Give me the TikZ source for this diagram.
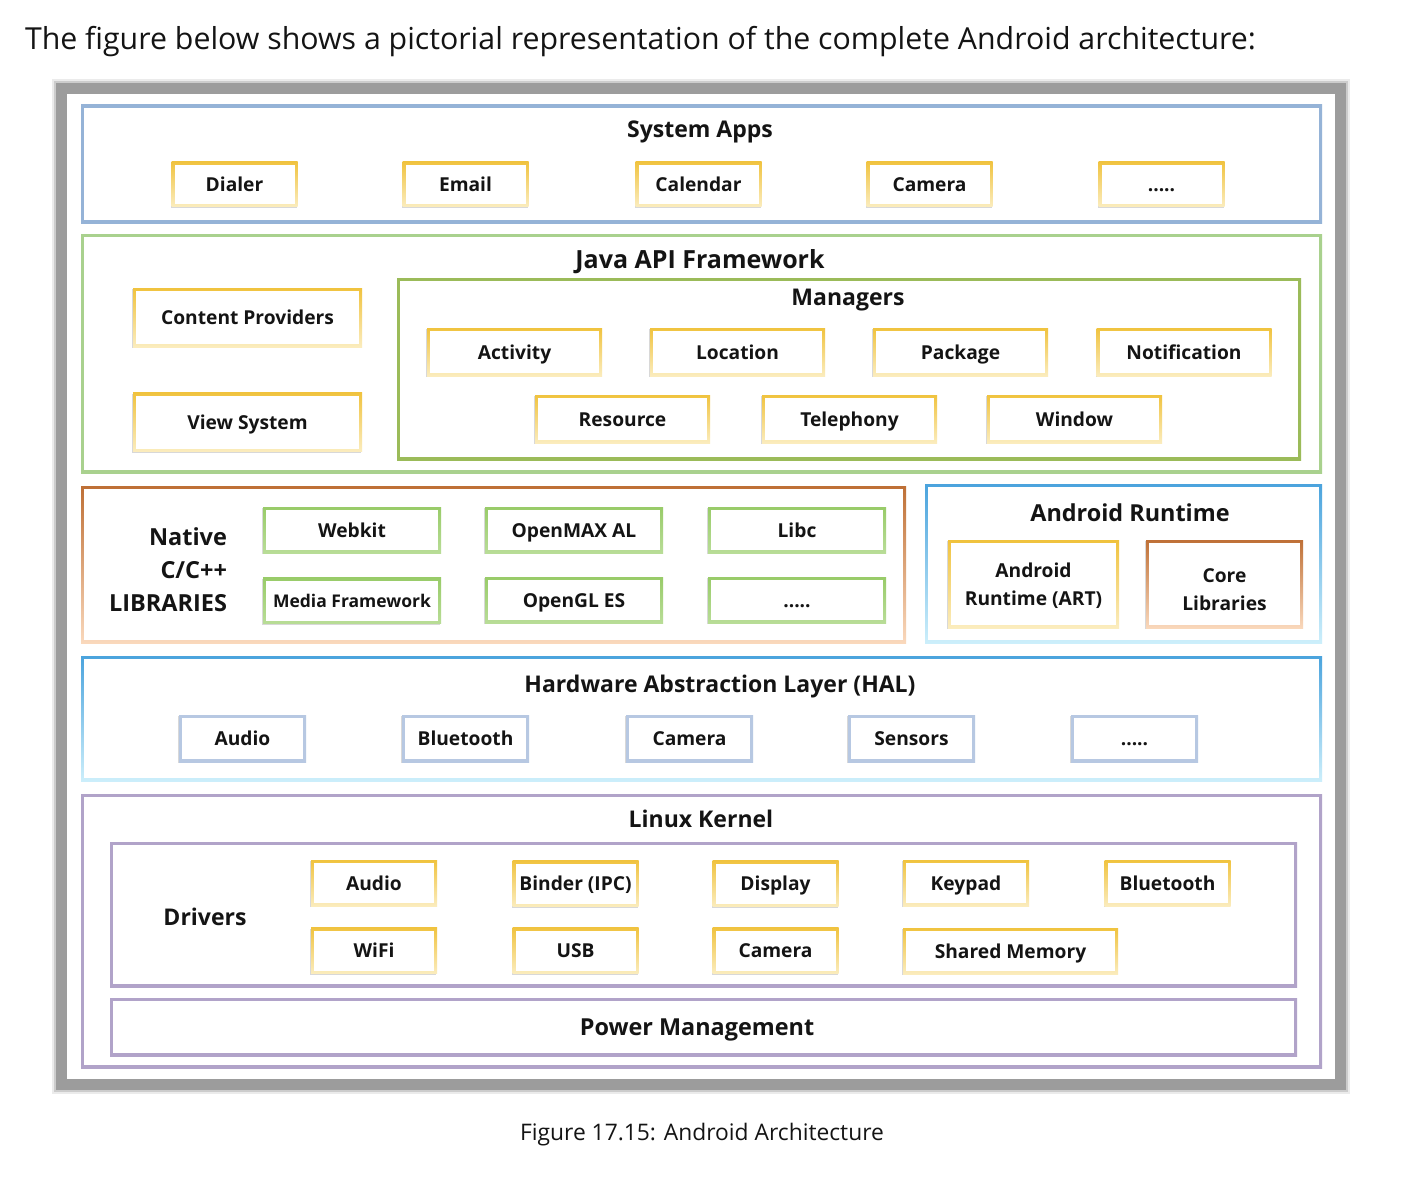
\documentclass[tikz,border=0pt]{standalone}
\usepackage{fontspec}
\setmainfont{Open Sans}
\usetikzlibrary{fit,shadows}
\definecolor{framegray}{HTML}{9C9C9C}
\definecolor{sysblue}{HTML}{95B3D7}
\definecolor{javagreen}{HTML}{A9D18E}
\definecolor{mgrgreen}{HTML}{9BBB59}
\definecolor{goldA}{HTML}{F0C23C}
\definecolor{goldB}{HTML}{FBEDC0}
\definecolor{brownA}{HTML}{BE6F35}
\definecolor{brownB}{HTML}{FAD9BD}
\definecolor{libgreenA}{HTML}{98CB68}
\definecolor{libgreenB}{HTML}{B9DD98}
\definecolor{rtblueA}{HTML}{4AA3DD}
\definecolor{rtblueB}{HTML}{CDEFFB}
\definecolor{halbox}{HTML}{B7C8E2}
\definecolor{kernpurple}{HTML}{B1A3C9}
\definecolor{txt}{HTML}{141414}
\tikzset{
  every node/.style={inner sep=0pt, outer sep=0pt, text=txt},
  gb/.style n args={3}{fill=white, path picture={
      \shade[top color=#1,bottom color=#2] ([shift={(-1pt,-1pt)}]path picture bounding box.south west) rectangle ([shift={(1pt,1pt)}]path picture bounding box.north east);
      \fill[white] ([shift={(#3,#3)}]path picture bounding box.south west) rectangle ([shift={(-#3,-#3)}]path picture bounding box.north east);}},
  sh/.style={drop shadow={shadow xshift=-0.8pt, shadow yshift=-1.4pt, opacity=.3, fill=gray}},
  lab/.style={font=\fontsize{19.2}{22}\selectfont\bfseries, text height=16.5pt, text depth=2pt},
  ttl/.style={font=\fontsize{23}{26}\selectfont\bfseries, text height=18pt, text depth=1.5pt},
  bigttl/.style={font=\fontsize{25}{28}\selectfont\bfseries, text height=19pt, text depth=1pt},
  twoline/.style={align=center, font=\fontsize{19.2}{28}\selectfont\bfseries},
  ybox/.style={gb={goldA}{goldB}{3pt}, sh, lab, minimum width=126pt, minimum height=45pt},
  mbox/.style={ybox, minimum width=175pt, minimum height=48pt},
  cbox/.style={ybox, minimum width=229pt, minimum height=59pt},
  lbox/.style={gb={libgreenA}{libgreenB}{3pt}, sh, lab, minimum width=178pt, minimum height=46pt},
  hbox/.style={gb={halbox}{halbox}{3pt}, sh, lab, minimum width=127pt, minimum height=47pt},
  dbox/.style={ybox, minimum width=126pt, minimum height=46pt},
}
\begin{document}
\begin{tikzpicture}[x=1pt,y=-1pt]
\useasboundingbox[fill=white] (0,0) rectangle (1410,1180);

% heading
\node[font=\fontsize{30.3}{34}\selectfont, anchor=west] (head) at (25,42) {The figure below shows a pictorial representation of the complete Android architecture:};

% outer frame with soft shadow
\node[fit={(61,89) (1340,1084)}, draw=black!8, line width=19pt] (halo) {};
\node[fit={(61,89) (1340,1084)}, draw=black!20, line width=15pt] (halo2) {};
\node[fit={(61,89) (1340,1084)}, draw=framegray, line width=11pt, fill=white] (outer) {};

% ---------- System Apps ----------
\node[gb={sysblue}{sysblue}{3pt}, fit={(81,105) (1322,223)}] (sys) {};
\node[ttl] (sysT) at (700,129) {System Apps};
\node[ybox] (dialer) at (234.5,184) {Dialer};
\node[ybox] (email) at (465.5,184) {Email};
\node[ybox] (calendar) at (698.5,184) {Calendar};
\node[ybox] (camera1) at (929.5,184) {Camera};
\node[ybox] (more1) at (1161.5,184) {.....};

% ---------- Java API Framework ----------
\node[gb={javagreen}{javagreen}{3pt}, fit={(81,234) (1322,473)}] (java) {};
\node[bigttl] (javaT) at (700,259) {Java API Framework};
\node[cbox] (content) at (247.5,317.5) {Content Providers};
\node[cbox] (view) at (247.5,422) {View System};
\node[gb={mgrgreen}{mgrgreen}{3pt}, fit={(397,278) (1301,460)}] (mgr) {};
\node[ttl] (mgrT) at (848,297) {Managers};
\node[mbox] (activity) at (514.5,352) {Activity};
\node[mbox] (location) at (737.5,352) {Location};
\node[mbox] (package) at (960.5,352) {Package};
\node[mbox] (notif) at (1184,352) {Notification};
\node[mbox] (resource) at (622.5,419) {Resource};
\node[mbox] (telephony) at (849.5,419) {Telephony};
\node[mbox] (window) at (1074.5,419) {Window};

% ---------- Native C/C++ Libraries ----------
\node[gb={brownA}{brownB}{3pt}, fit={(81,486) (906,643)}] (native) {};
\node[align=right, anchor=east, font=\fontsize{23.5}{33}\selectfont\bfseries] (nativeT) at (227,570) {Native\\C/C++\\LIBRARIES};
\node[lbox] (webkit) at (352,530) {Webkit};
\node[lbox, font=\fontsize{17.5}{20}\selectfont\bfseries] (media) at (352,600.5) {Media Framework};
\node[lbox] (openmax) at (574,530) {OpenMAX AL};
\node[lbox] (opengl) at (574,600) {OpenGL ES};
\node[lbox] (libc) at (797,530) {Libc};
\node[lbox] (more2) at (797,600) {.....};

% ---------- Android Runtime ----------
\node[gb={rtblueA}{rtblueB}{3pt}, fit={(925,484) (1322,643)}] (rt) {};
\node[ttl, font=\fontsize{23.4}{26}\selectfont\bfseries] (rtT) at (1130,513) {Android Runtime};
\node[gb={goldA}{goldB}{3pt}, sh, minimum width=171pt, minimum height=88pt] (art) at (1033.5,584) {};
\node[twoline] (artT) at (1033.5,586) {Android\\Runtime (ART)};
\node[gb={brownA}{brownB}{3pt}, sh, minimum width=157pt, minimum height=88pt] (core) at (1224.5,584) {};
\node[twoline] (coreT) at (1224.5,590) {Core\\Libraries};

% ---------- HAL ----------
\node[gb={rtblueA}{rtblueB}{3pt}, fit={(81,656) (1322,781)}] (hal) {};
\node[ttl] (halT) at (720,684) {Hardware Abstraction Layer (HAL)};
\node[hbox] (haudio) at (242.5,738.5) {Audio};
\node[hbox] (hbt) at (465.5,738.5) {Bluetooth};
\node[hbox] (hcam) at (689.5,738.5) {Camera};
\node[hbox] (hsens) at (911.5,738.5) {Sensors};
\node[hbox] (hmore) at (1134.5,738.5) {.....};

% ---------- Linux Kernel ----------
\node[gb={kernpurple}{kernpurple}{3pt}, fit={(81,794) (1322,1068)}] (kern) {};
\node[ttl] (kernT) at (701,819) {Linux Kernel};
\node[gb={kernpurple}{kernpurple}{3pt}, fit={(110,842) (1297,987)}] (drivers) {};
\node[ttl] (drvT) at (205,917) {Drivers};
\node[dbox] (daudio) at (374,883) {Audio};
\node[dbox] (dwifi) at (374,950.5) {WiFi};
\node[dbox] (binder) at (575.5,883.5) {Binder (IPC)};
\node[dbox] (usb) at (575.5,950.5) {USB};
\node[dbox] (display) at (775.5,883.5) {Display};
\node[dbox] (dcam) at (775.5,950.5) {Camera};
\node[dbox] (keypad) at (966,883) {Keypad};
\node[dbox] (dbt) at (1167.5,883) {Bluetooth};
\node[dbox, minimum width=215pt] (shmem) at (1010.5,951) {Shared Memory};
\node[gb={kernpurple}{kernpurple}{3pt}, fit={(110,998) (1297,1056)}] (power) {};
\node[ttl, font=\fontsize{23.4}{26}\selectfont\bfseries] (powerT) at (697,1027) {Power Management};

% caption
\node[font=\fontsize{22.8}{26}\selectfont] (cap) at (702,1135) {Figure 17.15: Android Architecture};
\end{tikzpicture}
\end{document}
